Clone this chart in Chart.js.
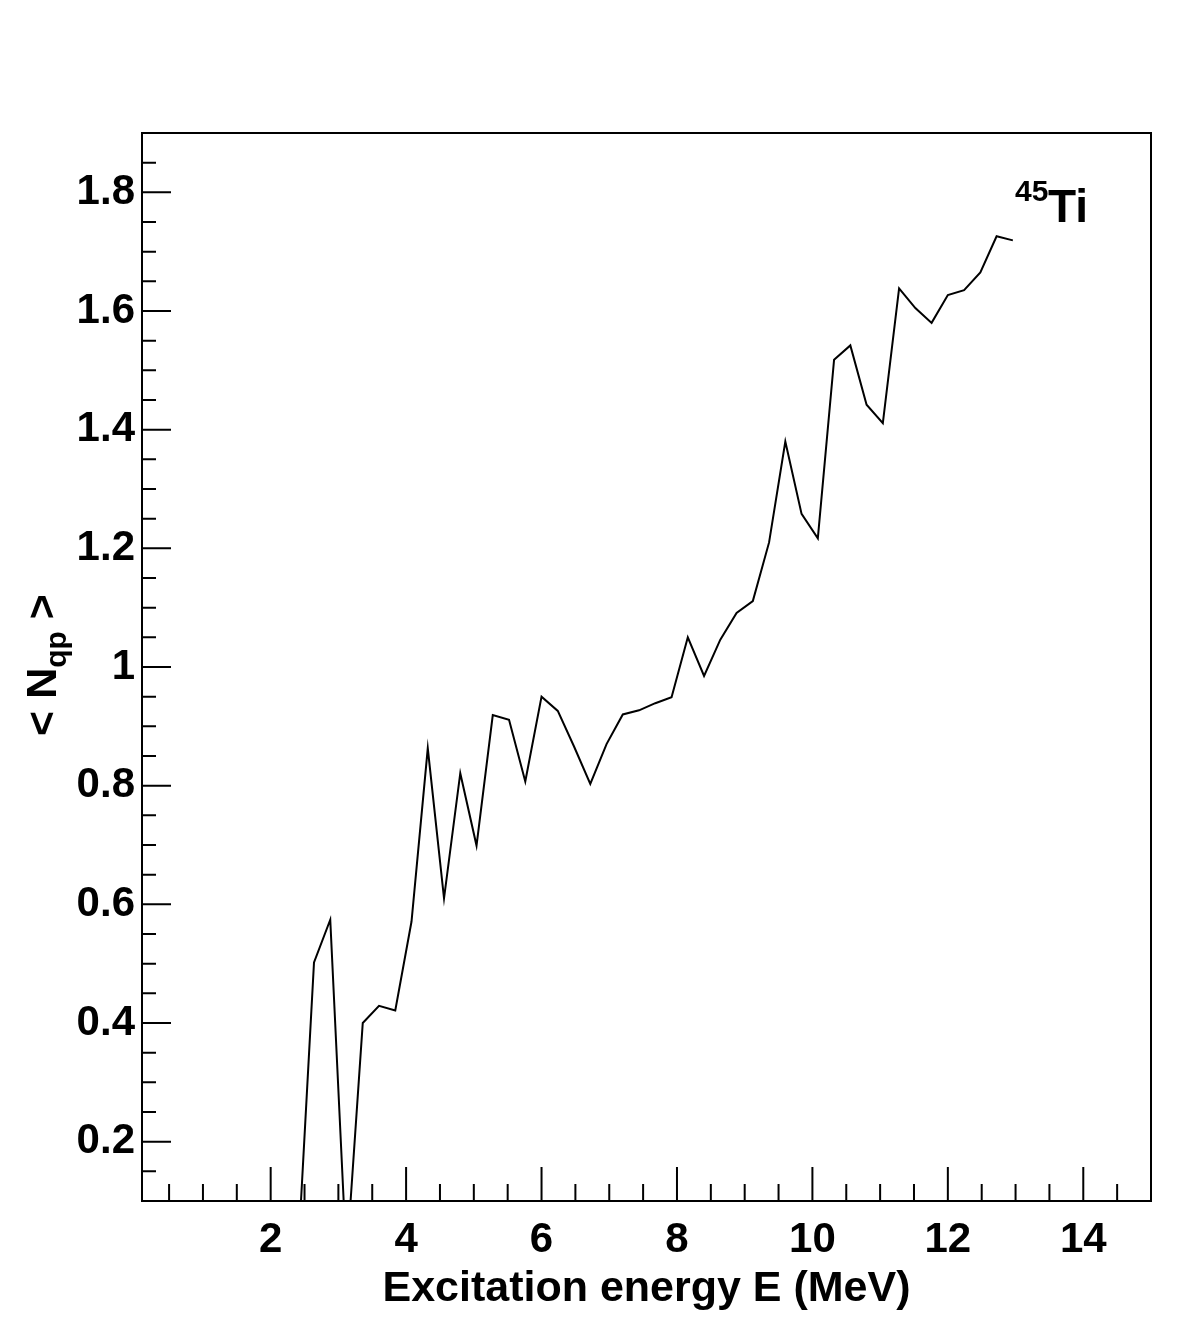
<!DOCTYPE html>
<html>
<head>
<meta charset="utf-8">
<title>45Ti Nqp</title>
<script src="https://cdn.jsdelivr.net/npm/chart.js@4.4.1/dist/chart.umd.min.js"></script>
<style>
  html, body { margin: 0; padding: 0; background: #fff; }
  #chart { display: block; }
</style>
</head>
<body>
<canvas id="chart" width="1181" height="1335"></canvas>
<script>
// === Data ===
// values at 2.40 and 3.12 MeV sit below the frame (line runs out of the bottom)
const energies = [2.40, 2.64, 2.88, 3.12, 3.36, 3.60, 3.84, 4.08, 4.32, 4.56,
  4.80, 5.04, 5.28, 5.52, 5.76, 6.00, 6.24, 6.48, 6.72, 6.96,
  7.20, 7.44, 7.68, 7.92, 8.16, 8.40, 8.64, 8.88, 9.12, 9.36,
  9.60, 9.84, 10.08, 10.32, 10.56, 10.80, 11.04, 11.28, 11.52, 11.76,
  12.00, 12.24, 12.48, 12.72, 12.96];
const nqp = [0.0, 0.502, 0.574, 0.0, 0.400, 0.429, 0.421, 0.571, 0.863, 0.610,
  0.821, 0.699, 0.919, 0.911, 0.807, 0.950, 0.926, 0.866, 0.803, 0.870,
  0.920, 0.927, 0.939, 0.949, 1.050, 0.985, 1.046, 1.091, 1.111, 1.210,
  1.380, 1.258, 1.217, 1.518, 1.542, 1.442, 1.411, 1.638, 1.605, 1.580,
  1.627, 1.635, 1.665, 1.726, 1.719];

const xTicks = [2, 4, 6, 8, 10, 12, 14];
const xMinorTicks = [0.5, 1, 1.5, 2.5, 3, 3.5, 4.5, 5, 5.5, 6.5, 7, 7.5, 8.5, 9, 9.5,
  10.5, 11, 11.5, 12.5, 13, 13.5, 14.5];
const yTicks = [0.2, 0.4, 0.6, 0.8, 1.0, 1.2, 1.4, 1.6, 1.8];
const yMinorTicks = [0.15, 0.25, 0.3, 0.35, 0.45, 0.5, 0.55, 0.65, 0.7, 0.75, 0.85, 0.9, 0.95,
  1.05, 1.1, 1.15, 1.25, 1.3, 1.35, 1.45, 1.5, 1.55, 1.65, 1.7, 1.75, 1.85];

const FONT = "'Liberation Sans', Arial, Helvetica, sans-serif";

// === ROOT-style frame, inward ticks and labels ===
const rootFrame = {
  id: "rootFrame",
  afterDraw(chart) {
    const { ctx, chartArea: a, scales } = chart;
    const xs = scales.x, ys = scales.y;
    ctx.save();
    ctx.strokeStyle = "#000";
    ctx.lineWidth = 2;
    ctx.strokeRect(a.left, a.top, a.right - a.left, a.bottom - a.top);

    ctx.beginPath();
    xTicks.forEach(v => {
      const px = xs.getPixelForValue(v);
      ctx.moveTo(px, a.bottom); ctx.lineTo(px, a.bottom - 34);
    });
    xMinorTicks.forEach(v => {
      const px = xs.getPixelForValue(v);
      ctx.moveTo(px, a.bottom); ctx.lineTo(px, a.bottom - 17);
    });
    yTicks.forEach(v => {
      const py = ys.getPixelForValue(v);
      ctx.moveTo(a.left, py); ctx.lineTo(a.left + 29, py);
    });
    yMinorTicks.forEach(v => {
      const py = ys.getPixelForValue(v);
      ctx.moveTo(a.left, py); ctx.lineTo(a.left + 14, py);
    });
    ctx.stroke();

    ctx.fillStyle = "#000";
    // x axis title
    ctx.font = "bold 43px " + FONT;
    ctx.textAlign = "center";
    ctx.textBaseline = "alphabetic";
    ctx.fillText("Excitation energy E (MeV)", (a.left + a.right) / 2, 1301);

    // y axis title: < N_qp >
    ctx.translate(56, 665);
    ctx.rotate(-Math.PI / 2);
    ctx.textAlign = "left";
    const big = "bold 43px " + FONT, small = "bold 30px " + FONT;
    ctx.font = big;
    const w1 = ctx.measureText("< N").width;
    const w3 = ctx.measureText(" >").width;
    ctx.font = small;
    const w2 = ctx.measureText("qp").width;
    let x0 = -(w1 + w2 + w3) / 2;
    ctx.font = big;
    ctx.fillText("< N", x0, 0);
    ctx.font = small;
    ctx.fillText("qp", x0 + w1, 10);
    ctx.font = big;
    ctx.fillText(" >", x0 + w1 + w2, 0);
    ctx.restore();

    // nucleus label
    ctx.save();
    ctx.fillStyle = "#000";
    ctx.textBaseline = "alphabetic";
    ctx.textAlign = "left";
    ctx.font = "bold 30px " + FONT;
    ctx.fillText("45", 1015, 201);
    ctx.font = "bold 46px " + FONT;
    ctx.fillText("Ti", 1048, 222);
    ctx.restore();
  }
};

const ctx = document.getElementById("chart").getContext("2d");
new Chart(ctx, {
  type: "line",
  data: {
    datasets: [{
      data: energies.map((e, i) => ({ x: e, y: nqp[i] })),
      borderColor: "#000",
      borderWidth: 2,
      pointRadius: 0,
      tension: 0,
      fill: false,
    }]
  },
  options: {
    responsive: false,
    animation: false,
    devicePixelRatio: 1,
    layout: { padding: { left: 0, top: 133, right: 30, bottom: 0 } },
    plugins: { legend: { display: false }, tooltip: { enabled: false } },
    scales: {
      x: {
        type: "linear",
        min: 0.1,
        max: 15,
        grid: { display: false, drawTicks: false },
        border: { display: false },
        afterFit: (s) => { s.height = 134; },
        afterBuildTicks: (s) => { s.ticks = xTicks.map(v => ({ value: v })); },
        ticks: {
          color: "#000",
          padding: 14,
          font: { family: FONT, size: 42, weight: "bold" },
          callback: (v) => String(v),
        }
      },
      y: {
        type: "linear",
        min: 0.1,
        max: 1.9,
        grid: { display: false, drawTicks: false },
        border: { display: false },
        afterFit: (s) => { s.width = 142; },
        afterBuildTicks: (s) => { s.ticks = yTicks.map(v => ({ value: v })); },
        ticks: {
          color: "#000",
          padding: 7,
          font: { family: FONT, size: 42, weight: "bold" },
          callback: (v) => (Math.abs(v - 1) < 1e-9 ? "1" : v.toFixed(1)),
        }
      }
    }
  },
  plugins: [rootFrame]
});
</script>
</body>
</html>
